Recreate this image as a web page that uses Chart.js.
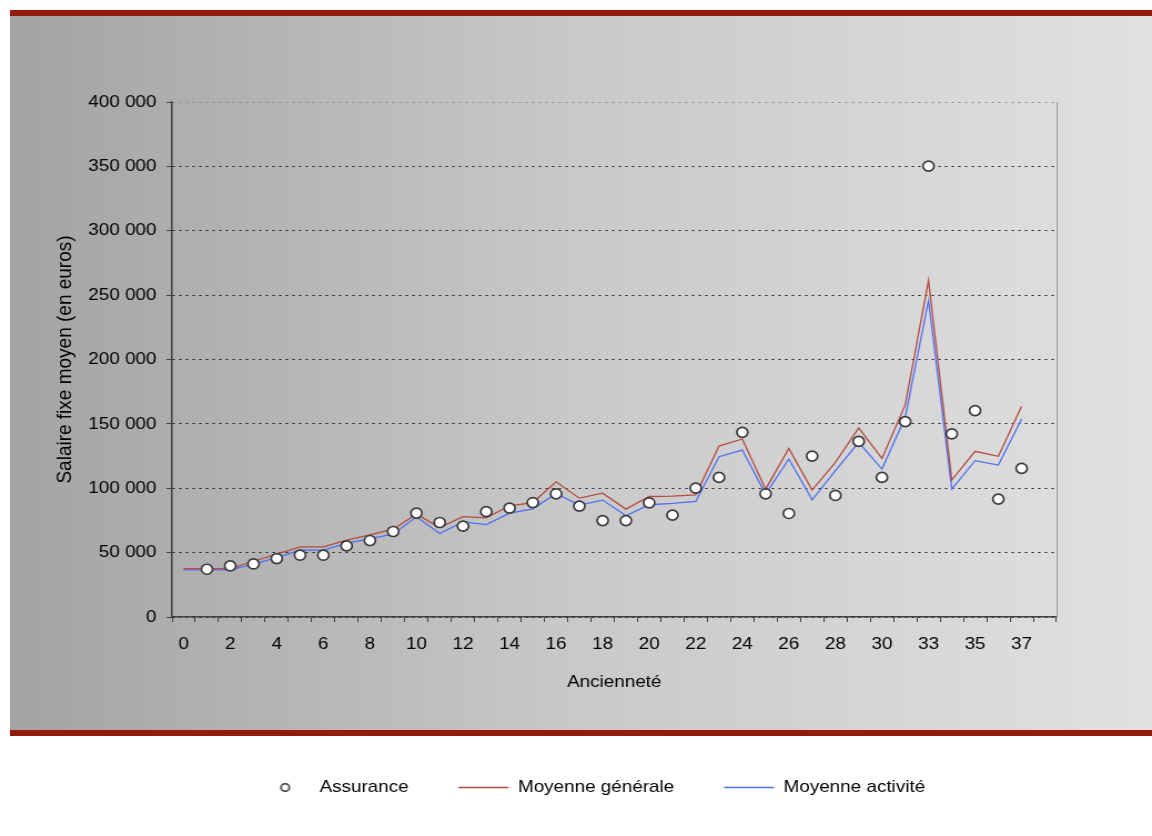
<!DOCTYPE html>
<html>
<head>
<meta charset="utf-8">
<script src="https://cdn.jsdelivr.net/npm/chart.js@4.4.1/dist/chart.umd.min.js"></script>
<style>
  html, body { margin: 0; padding: 0; background: #ffffff; width: 1152px; height: 836px; overflow: hidden; }
  #panel { position: absolute; left: 10px; top: 10px; width: 1142px; height: 726px;
           background: linear-gradient(to right, #a3a3a3 0%, #c9c9c9 50%, #e1e1e1 100%);
           border-top: 6px solid #941b0c; border-bottom: 6px solid #941b0c; box-sizing: border-box; }
  #c { position: absolute; left: 0; top: 0; transform: scaleX(1.1098); transform-origin: 0 0; }
</style>
</head>
<body>
<div id="panel"></div>
<canvas id="c" width="1038" height="836"></canvas>
<script>
// ---- data ----
const xLabels = ['0','1','2','3','4','5','6','7','8','9','10','11','12','13','14','15','16','17','18','19','20',
  '21','22','23','24','25','26','27','28','29','30','31','33','34','35','36','37',''];
const assurance = [null, 37100, 39700, 41200, 45400, 48000, 48000, 55200, 59400, 66400, 80700, 73400, 70600,
  81800, 84600, 88900, 95700, 86100, 74900, 74900, 88700, 79100, 100100, 108400, 143400, 95700, 80400,
  125000, 94400, 136400, 108400, 151700, 350200, 142200, 160300, 91600, 115400, null];
const moyenneGenerale = [37600, 37600, 37600, 43300, 48800, 54500, 54500, 59700, 63800, 68200, 79900, 69500,
  78000, 77000, 86400, 88900, 105000, 92300, 96200, 83800, 93600, 93900, 94900, 132800, 138300, 99300,
  131000, 98600, 120100, 146800, 123200, 164700, 261500, 106400, 128700, 124800, 163700, null];
const moyenneActivite = [36600, 36600, 36600, 41000, 46200, 51900, 51900, 57100, 60900, 64300, 77800, 64800,
  73900, 71800, 80700, 84000, 95900, 86900, 90800, 78600, 87200, 88200, 89700, 124500, 129700, 95500,
  122700, 91000, 113600, 135600, 114900, 155100, 245900, 99300, 121400, 118000, 153800, null];
const seriesNames = ['Assurance', 'Moyenne générale', 'Moyenne activité'];
const yTicks = [0, 50000, 100000, 150000, 200000, 250000, 300000, 350000, 400000];

const FONT = '"Liberation Sans", Arial, Helvetica, sans-serif';
Chart.defaults.font.family = FONT;
Chart.defaults.color = '#000';

function fmt(v) { return String(v).replace(/\B(?=(\d{3})+(?!\d))/g, ' '); }

// small legend marker
const dot = document.createElement('canvas');
dot.width = 11; dot.height = 11;
(function(){ const g = dot.getContext('2d'); g.beginPath(); g.arc(5.5, 5.5, 3.8, 0, Math.PI*2);
  g.fillStyle = '#fff'; g.fill(); g.lineWidth = 1.6; g.strokeStyle = '#3a3a3a'; g.stroke(); })();

new Chart(document.getElementById('c'), {
  type: 'line',
  data: {
    labels: xLabels,
    datasets: [
      { label: seriesNames[0], data: assurance, showLine: false, pointRadius: 5, pointHoverRadius: 5,
        pointBackgroundColor: '#ffffff', pointBorderColor: '#3a3a3a', pointBorderWidth: 1.7,
        borderColor: '#3a3a3a', backgroundColor: '#ffffff' },
      { label: seriesNames[1], data: moyenneGenerale, borderColor: '#b34b40', backgroundColor: '#b34b40',
        borderWidth: 1.3, pointRadius: 0, tension: 0 },
      { label: seriesNames[2], data: moyenneActivite, borderColor: '#4d6ef5', backgroundColor: '#4d6ef5',
        borderWidth: 1.3, pointRadius: 0, tension: 0 }
    ]
  },
  options: {
    responsive: false, animation: false, devicePixelRatio: 1,
    layout: { padding: { top: 102, left: 30, right: 0, bottom: 30 } },
    plugins: {
      tooltip: { enabled: false },
      legend: {
        position: 'bottom',
        labels: {
          usePointStyle: true, pointStyleWidth: 45, padding: 45,
          font: { size: 17 }, color: '#000',
          generateLabels(chart) {
            const items = Chart.defaults.plugins.legend.labels.generateLabels(chart);
            items[0].pointStyle = dot;
            items[1].pointStyle = 'line'; items[1].lineWidth = 1.3;
            items[2].pointStyle = 'line'; items[2].lineWidth = 1.3;
            return items;
          }
        }
      }
    },
    scales: {
      x: {
        type: 'category', offset: true,
        grid: { offset: true, drawOnChartArea: false, drawTicks: true, tickLength: 5, color: '#404040', lineWidth: 1 },
        border: { color: '#404040', width: 1.5 },
        ticks: { autoSkip: false, maxRotation: 0, minRotation: 0, padding: 12, font: { size: 17 }, color: '#000',
          callback: function(v, i) { return i % 2 === 0 ? this.getLabelForValue(v) : ''; } },
        title: { display: true, text: 'Ancienneté', font: { size: 17 }, color: '#000', padding: { top: 10, bottom: 41 } },
        afterFit: s => { s.height = 117; }
      },
      y: {
        min: 0, max: 400000,
        afterBuildTicks: s => { s.ticks = yTicks.map(v => ({ value: v })); },
        grid: { color: c => (c.tick && c.tick.value === 400000) ? '#8a8a8a' : '#1a1a1a', lineWidth: 1,
                drawTicks: true, tickLength: 5, tickColor: '#404040' },
        border: { color: '#404040', width: 1.5, dash: [2, 4] },
        ticks: { padding: 9, font: { size: 17 }, color: '#000', callback: v => fmt(v) },
        title: { display: true, text: 'Salaire fixe moyen (en euros)', font: { size: 19 }, color: '#000', padding: { top: 17, bottom: 0 } },
        afterFit: s => { s.width = 125; }
      },
      y2: {
        position: 'right', display: true, min: 0, max: 400000,
        grid: { display: false, drawOnChartArea: false, drawTicks: false },
        border: { display: true, color: '#9a9a9a', width: 1 },
        ticks: { display: false },
        afterFit: s => { s.width = 86; }
      }
    }
  }
});
</script>
</body>
</html>
